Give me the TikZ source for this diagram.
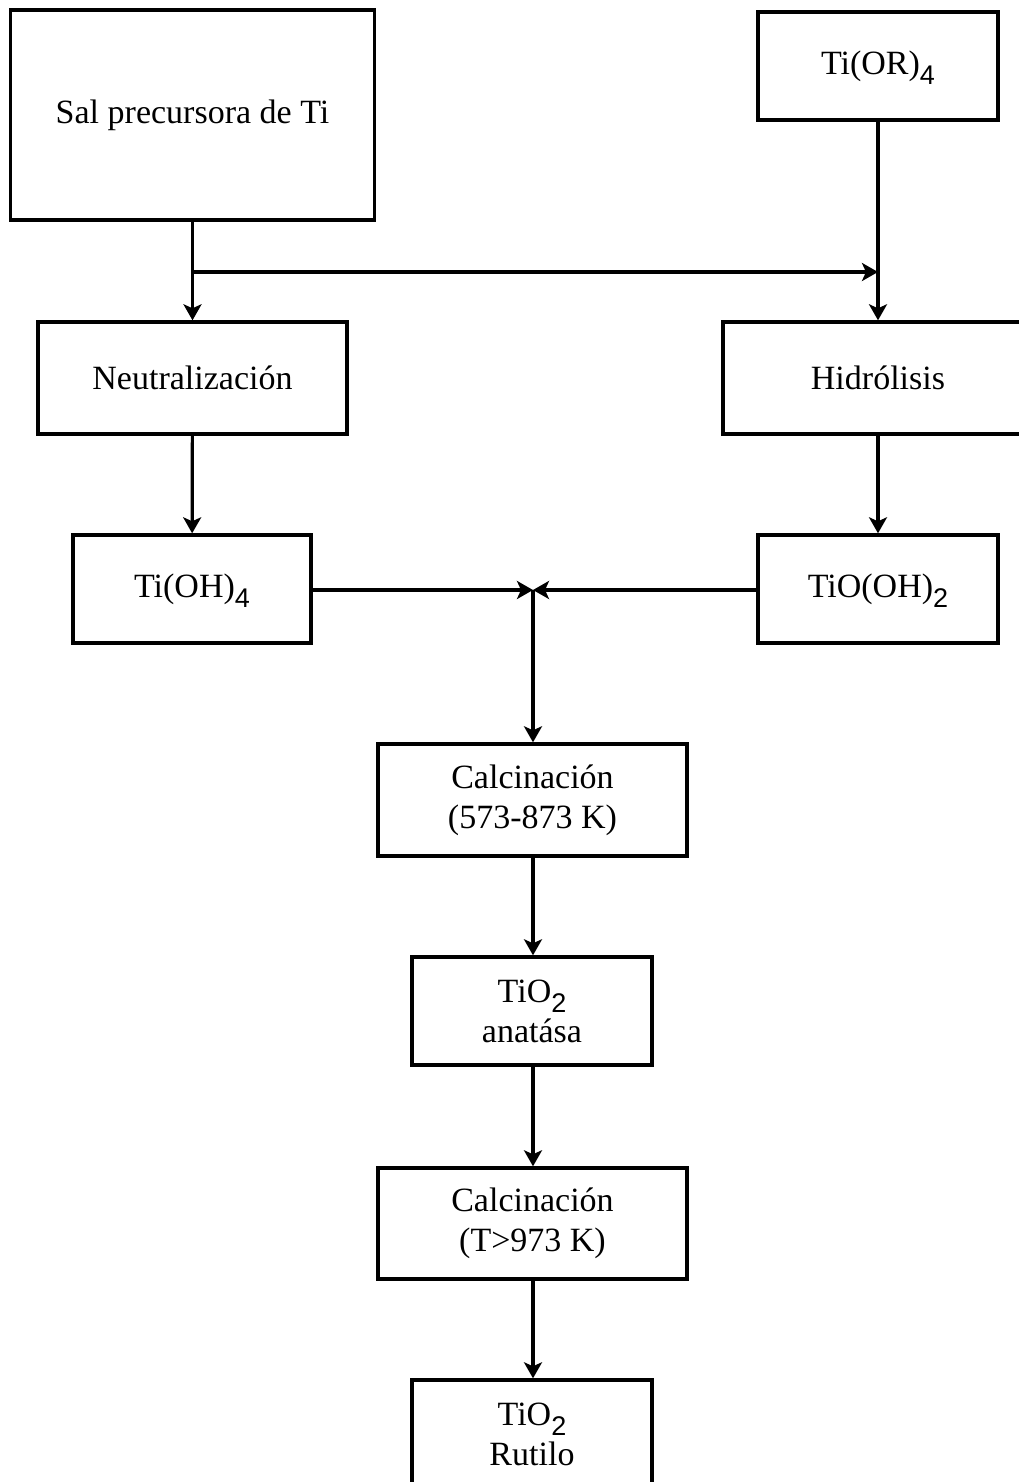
\documentclass[tikz,border=0pt]{standalone}
\usepackage{fontspec}
\setmainfont{Liberation Serif}
\setsansfont{Liberation Sans}
\usetikzlibrary{arrows.meta}
\newcommand{\chsub}[1]{\raisebox{-5pt}[0pt][0pt]{\sffamily\fontsize{13.5}{14}\selectfont #1}}

\begin{document}
\begin{tikzpicture}[
  x=0.5pt, y=-0.5pt,
  stepbox/.style={draw=black, line width=1.7pt, fill=white,
               inner sep=0pt, align=center,
               font=\fontsize{17}{20}\selectfont},
  flow/.style={line width=1.6pt, -{Stealth[length=8pt, width=9pt, inset=2pt]}},
]
\useasboundingbox (0,0) rectangle (1018,1482);

% Row 0: starting materials
\node[stepbox, minimum width=182pt, minimum height=105pt] (sal) at (192.5, 115) {Sal precursora de Ti};
\node[stepbox, minimum width=120pt, minimum height=54pt] (tior) at (878, 66) {Ti(OR)\chsub{4}};

% Row 1: treatment
\node[stepbox, minimum width=154.5pt, minimum height=56pt] (neut) at (192.5, 378) {Neutralización};
\node[stepbox, minimum width=155pt, minimum height=56pt] (hidro) at (878, 378) {Hidrólisis};

% Row 2: hydroxides
\node[stepbox, minimum width=119pt, minimum height=54pt] (tioh) at (192, 589) {Ti(OH)\chsub{4}};
\node[stepbox, minimum width=120pt, minimum height=54pt] (tiooh) at (878, 589) {TiO(OH)\chsub{2}};

% Row 3..6: central column
\node[stepbox, minimum width=154.5pt, minimum height=56pt] (calc1) at (532.5, 800) {Calcinación\\(573-873 K)};
\node[stepbox, minimum width=120pt, minimum height=54pt] (anat) at (532, 1011) {TiO\chsub{2}\\anatása};
\node[stepbox, minimum width=154.5pt, minimum height=55.5pt] (calc2) at (532.5, 1223.5) {Calcinación\\(T>973 K)};
\node[stepbox, minimum width=120pt, minimum height=54pt] (rut) at (532, 1434) {TiO\chsub{2}\\Rutilo};

% junction points
\coordinate (split) at (192.5, 272);
\coordinate (merge) at (533, 590);

% left branch
\draw[flow] (sal) -- (neut);
\draw[flow] (split) -- (split -| tior.south);
\draw[flow] (neut) -- (tioh);

% right branch
\draw[flow] (tior) -- (hidro);
\draw[flow] (hidro) -- (tiooh);

% merge into calcination
\draw[flow] (tioh.east |- merge) -- (merge);
\draw[flow] (tiooh.west |- merge) -- (merge);
\draw[flow] (merge) -- (calc1.north -| merge);

% central column
\draw[flow] (calc1.south -| merge) -- (anat.north -| merge);
\draw[flow] (anat.south -| merge) -- (calc2.north -| merge);
\draw[flow] (calc2.south -| merge) -- (rut.north -| merge);

\end{tikzpicture}
\end{document}
